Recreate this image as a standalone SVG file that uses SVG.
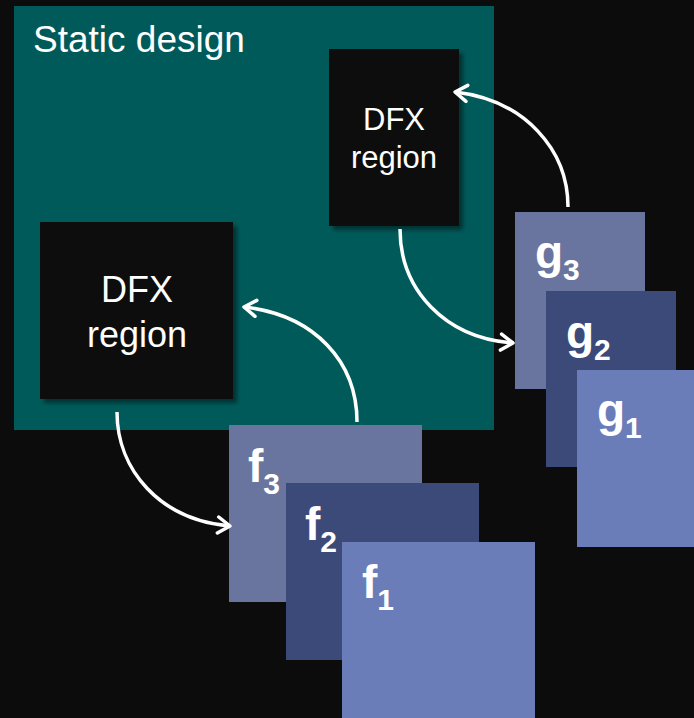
<svg xmlns="http://www.w3.org/2000/svg" width="694" height="718" viewBox="0 0 694 718">
<style>
.lbl{font-family:"Liberation Sans",Arial,sans-serif;fill:#ffffff}
.dfx{fill:#0c0c0c;filter:url(#sh)}
.c3{fill:#6a759f}.c2{fill:#3c4a7a}.c1{fill:#6a7db8}
.sym{font-family:"Liberation Sans",Arial,sans-serif;font-weight:bold;font-size:46px;fill:#ffffff}
.sub{font-size:30px}
.arr{fill:none;stroke:#ffffff;stroke-width:3.5;marker-end:url(#ah)}
</style>
<defs>
<filter id="sh" x="-10%" y="-10%" width="130%" height="130%">
<feDropShadow dx="4" dy="4" stdDeviation="2" flood-color="#000" flood-opacity="0.45"/>
</filter>
<marker id="ah" viewBox="0 0 20 20" refX="18" refY="10" markerWidth="20" markerHeight="20" markerUnits="userSpaceOnUse" orient="auto">
<polyline points="6,2 18,10 6,18" fill="none" stroke="#ffffff" stroke-width="3.5" stroke-linecap="round" stroke-linejoin="round"/>
</marker>
</defs>
<rect x="0" y="0" width="694" height="718" fill="#0c0c0c"/>
<g id="static">
<rect x="14" y="6" width="480" height="424" fill="#015a5a"/>
<text class="lbl" x="33" y="52" font-size="37">Static design</text>
</g>
<g id="dfx-top">
<rect class="dfx" x="329" y="49" width="130" height="177"/>
<text class="lbl" x="394" y="130" font-size="31" text-anchor="middle">DFX</text>
<text class="lbl" x="394" y="168" font-size="31" text-anchor="middle">region</text>
</g>
<g id="dfx-bottom">
<rect class="dfx" x="40" y="222" width="193" height="177"/>
<text class="lbl" x="137" y="302" font-size="36" text-anchor="middle">DFX</text>
<text class="lbl" x="137" y="347" font-size="36" text-anchor="middle">region</text>
</g>
<g id="f3"><rect class="c3" x="229" y="425" width="193" height="177"/><text class="sym" x="248" y="482">f<tspan class="sub" dy="12">3</tspan></text></g>
<g id="f2"><rect class="c2" x="286" y="483" width="193" height="177"/><text class="sym" x="305" y="540">f<tspan class="sub" dy="12">2</tspan></text></g>
<g id="f1"><rect class="c1" x="342" y="542" width="193" height="177"/><text class="sym" x="362" y="598">f<tspan class="sub" dy="12">1</tspan></text></g>
<g id="g3"><rect class="c3" x="515" y="212" width="130" height="177"/><text class="sym" x="535" y="268">g<tspan class="sub" dy="12">3</tspan></text></g>
<g id="g2"><rect class="c2" x="546" y="291" width="130" height="176"/><text class="sym" x="566" y="348">g<tspan class="sub" dy="12">2</tspan></text></g>
<g id="g1"><rect class="c1" x="577" y="370" width="130" height="177"/><text class="sym" x="597" y="426">g<tspan class="sub" dy="12">1</tspan></text></g>
<g id="connectors">
<path class="arr" d="M400,229 C400,290 445,338 513,343"/>
<path class="arr" d="M568,207 C568,150 525,100 455,92"/>
<path class="arr" d="M357,422 C357,362 315,315 244,307"/>
<path class="arr" d="M117,412 C117,470 160,520 230,526"/>
</g>
</svg>
